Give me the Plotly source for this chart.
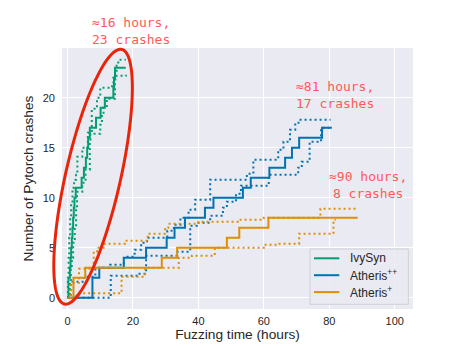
import numpy as np
import plotly.graph_objects as go

# ---------------- data (hours, crashes) ----------------
ivysyn_t = [0, 0.25, 0.7, 0.9, 1.1, 1.3, 1.5, 1.7, 1.9, 2.1, 2.5, 4.3, 5.0, 5.6, 6.0, 6.3, 6.8, 8.7, 10.1, 11.4, 14.0, 14.2, 14.5, 17.8]
ivysyn_v = [0, 2, 3, 4, 5, 6, 7, 8, 9, 10, 11, 12, 13, 14, 15, 16, 17, 18, 19, 20, 21, 22, 23, 23]
ivysyn_hi_t = [0, 0.1, 0.3, 0.5, 0.8, 1.1, 1.5, 2.0, 2.6, 3.0, 4.5, 6.2, 7.4, 9.0, 10.0, 13.6, 14.0, 14.5, 15.0, 15.5, 17.8]
ivysyn_hi_v = [0, 2.0, 4.0, 6.0, 8.0, 9.5, 11.0, 11.8, 12.3, 14.1, 15.0, 16.5, 18.9, 20.0, 21.0, 21.5, 22.0, 22.5, 23.3, 23.8, 23.8]
ivysyn_lo_t = [0, 0.7, 1.0, 1.3, 1.7, 2.2, 2.6, 2.9, 4.5, 5.5, 6.8, 7.0, 10.0, 10.5, 11.0, 12.0, 14.5, 14.6, 17.8]
ivysyn_lo_v = [0, 1.5, 2.8, 4.0, 5.5, 7.0, 9.0, 10.6, 11.5, 12.8, 15.5, 16.4, 17.3, 18.3, 19.0, 19.9, 21.5, 22.2, 22.3]

atheris_pp_t = [0, 7.6, 9.7, 17.2, 24.0, 30.3, 32.7, 35.9, 42.0, 44.6, 53.6, 56.0, 61.7, 66.5, 68.6, 70.8, 77.8, 80.8]
atheris_pp_v = [0, 2, 3, 4, 5, 6, 7, 8, 9, 10, 11, 12, 13, 14, 15, 16, 17, 17]
atheris_pp_hi_t = [0, 1.0, 5.0, 8.5, 13.0, 17.2, 20.5, 22.5, 24.3, 30.5, 32.5, 34.5, 37.0, 39.0, 43.6, 54.8, 56.8, 64.4, 66.0, 68.0, 69.6, 70.6, 80.4]
atheris_pp_hi_v = [0, 1.6, 2.1, 3.0, 3.3, 4.1, 4.8, 5.5, 6.0, 6.7, 7.3, 8.0, 8.8, 9.8, 11.8, 12.4, 13.8, 14.8, 15.6, 16.8, 17.5, 17.8, 17.8]
atheris_pp_lo_t = [0, 13.2, 22.0, 24.0, 33.5, 37.5, 39.5, 43.6, 47.5, 48.7, 51.5, 53.0, 61.5, 70.5, 71.6, 74.0, 77.5, 80.8]
atheris_pp_lo_v = [0, 2.2, 2.4, 4.2, 4.6, 7.2, 7.5, 8.2, 9.0, 9.6, 10.4, 11.2, 12.3, 13.0, 13.6, 15.6, 17.0, 17.0]

atheris_p_t = [0, 1.8, 5.4, 28.8, 33.5, 48.7, 52.5, 61.4, 88.7]
atheris_p_v = [0, 2, 3, 4, 5, 6, 7, 8, 8]
atheris_p_hi_t = [0, 1.0, 3.5, 8.0, 9.0, 11.4, 17.5, 24.5, 29.8, 30.8, 40.0, 52.0, 60.0, 77.3, 88.4]
atheris_p_hi_v = [0, 1.5, 2.9, 4.6, 5.0, 5.4, 5.7, 6.4, 7.0, 7.4, 7.6, 7.8, 8.0, 8.9, 8.9]
atheris_p_lo_t = [0, 2.7, 16.5, 23.7, 34.0, 38.0, 45.0, 60.0, 64.4, 70.8, 81.3, 82.0]
atheris_p_lo_v = [0, 0.44, 2.1, 3.0, 4.0, 4.2, 5.0, 5.3, 5.4, 6.4, 7.8, 7.8]

series_names = ["IvySyn", "Atheris<sup>++</sup>", "Atheris<sup>+</sup>"]

x_ticks = [0, 20, 40, 60, 80, 100]
y_ticks = [0, 5, 10, 15, 20]

notes = [
    ("≈16 hours,<br>23 crashes", 19.4, 26.7),
    ("≈81 hours,<br>17 crashes", 81.7, 20.3),
    ("≈90 hours,<br>8 crashes", 91.8, 11.3),
]

# ---------------- styling ----------------
GREEN, BLUE, ORANGE = "#029e73", "#0173b2", "#de8f05"
COLORS = [GREEN, BLUE, ORANGE]
BODY = 8                      # default page margin around the figure
W, H = 458 - BODY, 346 - BODY
ML, MR, MT, MB = 62 - BODY, 45, 48 - BODY, 37
X_RANGE = [-1.7, 105.6]
Y_RANGE = [-1.13, 24.97]
PW, PH = W - ML - MR, H - MT - MB
FONT = "Liberation Sans, Arial, sans-serif"

fig = go.Figure()

def add(t, v, color, name=None, dotted=False):
    fig.add_trace(go.Scatter(
        x=t, y=v, mode="lines", line_shape="hv",
        line=dict(color=color, width=2, dash="2px,3px" if dotted else "solid"),
        name=name, showlegend=False, hoverinfo="skip",
    ))

add(ivysyn_hi_t, ivysyn_hi_v, GREEN, dotted=True)
add(ivysyn_lo_t, ivysyn_lo_v, GREEN, dotted=True)
add(atheris_pp_hi_t, atheris_pp_hi_v, BLUE, dotted=True)
add(atheris_pp_lo_t, atheris_pp_lo_v, BLUE, dotted=True)
add(atheris_p_hi_t, atheris_p_hi_v, ORANGE, dotted=True)
add(atheris_p_lo_t, atheris_p_lo_v, ORANGE, dotted=True)
add(ivysyn_t, ivysyn_v, GREEN, name=series_names[0])
add(atheris_pp_t, atheris_pp_v, BLUE, name=series_names[1])
add(atheris_p_t, atheris_p_v, ORANGE, name=series_names[2])

def x2paper(x):
    return (x - X_RANGE[0]) / (X_RANGE[1] - X_RANGE[0])

def y2paper(y):
    return (y - Y_RANGE[0]) / (Y_RANGE[1] - Y_RANGE[0])

# offsets in pixels from the plot area's bottom-right corner -> paper units
def px_x(dx):
    return 1 + dx / PW

def px_y(dy):
    return dy / PH

# highlight ellipse (decoration), defined around a data-space centre
ell_center = (7.8, 12.1)   # hours, crashes
ell_a, ell_b, ell_tilt = 130.5, 27.5, np.radians(12.7)   # pixels, pixels, tilt
cx, cy = x2paper(ell_center[0]) * PW, y2paper(ell_center[1]) * PH
tt = np.linspace(0, 2 * np.pi, 181)
u, w = ell_a * np.cos(tt), ell_b * np.sin(tt)
px = cx + u * np.sin(ell_tilt) + w * np.cos(ell_tilt)
py = cy + u * np.cos(ell_tilt) - w * np.sin(ell_tilt)
path = "M " + " L ".join(f"{a / PW:.5f},{b / PH:.5f}" for a, b in zip(px, py)) + " Z"
fig.add_shape(type="path", path=path, xref="paper", yref="paper",
              line=dict(color="#e8250b", width=3), layer="above")

for text, x, y in notes:
    fig.add_annotation(x=x2paper(x), y=y2paper(y), xref="paper", yref="paper",
                       text=text, showarrow=False,
                       align="center", xanchor="center", yanchor="middle",
                       font=dict(family="DejaVu Sans Mono", size=13, color="#ff5a5a"))

# legend box (matplotlib-style, lower right)
fig.add_shape(type="rect", xref="paper", yref="paper",
              x0=px_x(-103), x1=px_x(-4.7), y0=px_y(4.7), y1=px_y(60),
              fillcolor="rgba(234,234,242,0.85)", line=dict(color="#cfcfd6", width=1),
              layer="above")
for i, (name, col) in enumerate(zip(series_names, COLORS)):
    yy = px_y(50.7 - 16.9 * i)
    fig.add_shape(type="line", xref="paper", yref="paper",
                  x0=px_x(-99), x1=px_x(-73.7), y0=yy, y1=yy,
                  line=dict(color=col, width=2), layer="above")
    fig.add_annotation(x=px_x(-65.3), y=yy, xref="paper", yref="paper", text=name,
                       showarrow=False, xanchor="left", yanchor="middle",
                       font=dict(family=FONT, size=12, color="#262626"))

fig.update_layout(
    width=W, height=H,
    margin=dict(l=ML, r=MR, t=MT, b=MB, pad=0),
    paper_bgcolor="white", plot_bgcolor="#eaeaf2",
    font=dict(family=FONT, size=11, color="#262626"),
    xaxis=dict(range=X_RANGE, tickvals=x_ticks, showgrid=True, gridcolor="white",
               gridwidth=1.2, zeroline=False, showline=False, ticks="",
               automargin=False, ticklabelstandoff=4,
               title=dict(text="Fuzzing time (hours)", font=dict(size=13.7), standoff=2),
               tickfont=dict(size=11)),
    yaxis=dict(range=Y_RANGE, tickvals=y_ticks, showgrid=True, gridcolor="white",
               gridwidth=1.2, zeroline=False, showline=False, ticks="",
               automargin=False, ticklabelstandoff=6,
               title=dict(text="Number of Pytorch crashes", font=dict(size=13.7), standoff=5),
               tickfont=dict(size=11)),
    showlegend=False,
)

fig.write_html("out.html")
